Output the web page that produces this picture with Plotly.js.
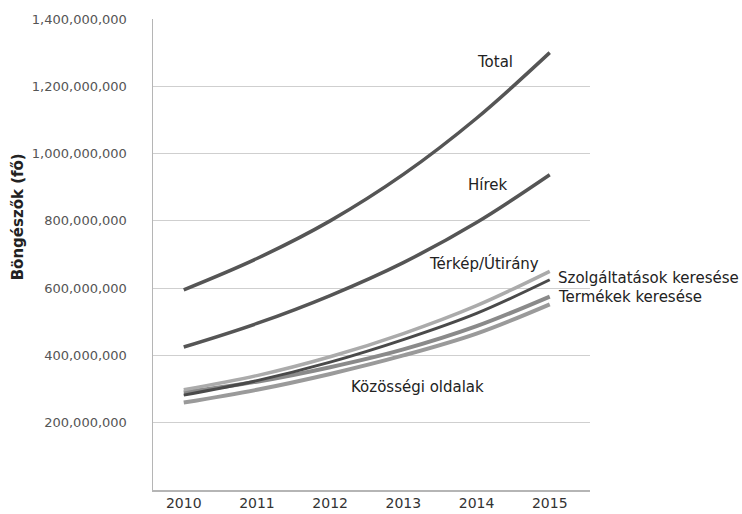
<!DOCTYPE html>
<html>
<head>
<meta charset="utf-8">
<script src="https://cdn.plot.ly/plotly-3.0.1.min.js"></script>
<style>html,body{margin:0;padding:0;background:#fff;}#chart{width:742px;height:514px;}</style>
</head>
<body>
<div id="chart"></div>
<script>
const years = [2010, 2011, 2012, 2013, 2014, 2015];
const total = [595e6, 688e6, 800e6, 938e6, 1105e6, 1300e6];
const hirek = [425e6, 495e6, 578e6, 676e6, 795e6, 937e6];
const terkep = [298e6, 340e6, 396e6, 465e6, 548e6, 650e6];
const szolgaltatasok = [282e6, 325e6, 380e6, 447e6, 525e6, 625e6];
const termekek = [290e6, 322e6, 365e6, 418e6, 487e6, 575e6];
const kozossegi = [260e6, 298e6, 345e6, 400e6, 465e6, 552e6];
const yTicks = [200e6, 400e6, 600e6, 800e6, 1000e6, 1200e6, 1400e6];
const yTitle = 'Böngészők (fő)';

function tr(y, color, width, name) {
  return {x: years, y: y, type: 'scatter', mode: 'lines', name: name,
    line: {color: color, width: width, shape: 'spline', smoothing: 1}, hoverinfo: 'skip'};
}
const data = [
  tr(kozossegi, '#9a9a9a', 4, 'Közösségi oldalak'),
  tr(termekek, '#8a8a8a', 4, 'Termékek keresése'),
  tr(terkep, '#ababab', 3.5, 'Térkép/Útirány'),
  tr(szolgaltatasok, '#4a4a4a', 3, 'Szolgáltatások keresése'),
  tr(hirek, '#555555', 3.5, 'Hírek'),
  tr(total, '#555555', 3.5, 'Total')
];
const lf = {family: 'DejaVu Sans, sans-serif', size: 15, color: '#222'};
function ann(text, x, y, xanchor) {
  return {text: text, x: x, y: y, xref: 'x', yref: 'y', showarrow: false, xanchor: xanchor || 'center', yanchor: 'middle', font: lf};
}
const layout = {
  width: 742, height: 514,
  margin: {l: 153, r: 152, t: 19, b: 24},
  paper_bgcolor: '#fff', plot_bgcolor: '#fff',
  showlegend: false,
  font: {family: 'DejaVu Sans, sans-serif', size: 13, color: '#555'},
  xaxis: {range: [2009.58, 2015.55], tickvals: years, ticktext: years.map(String),
    showgrid: false, zeroline: false, showline: true, linecolor: '#b5b5b5', linewidth: 1.5,
    ticks: '', tickfont: {family: 'DejaVu Sans, sans-serif', size: 14, color: '#333'}},
  yaxis: {range: [0, 1400e6], tickvals: yTicks, tickformat: ',d',
    showgrid: true, gridcolor: '#cfcfcf', gridwidth: 1, zeroline: false,
    showline: true, linecolor: '#b5b5b5', linewidth: 1.5, ticks: '', ticklabelstandoff: 22,
    tickfont: {family: 'DejaVu Sans, sans-serif', size: 13, color: '#555'}},
  annotations: [
    ann('Total', 2014.25, 1271e6),
    ann('Hírek', 2014.15, 908e6),
    ann('Térkép/Útirány', 2014.1, 673e6),
    ann('Szolgáltatások keresése', 2015.08, 631e6, 'left'),
    ann('Termékek keresése', 2015.08, 574e6, 'left'),
    ann('Közösségi oldalak', 2013.2, 307e6),
    {text: '<b>' + yTitle + '</b>', xref: 'paper', yref: 'paper', x: -0.31, y: 0.58, showarrow: false, textangle: -90,
      xanchor: 'center', yanchor: 'middle', font: {family: 'DejaVu Sans, sans-serif', size: 15, color: '#222'}}
  ]
};
Plotly.newPlot('chart', data, layout, {staticPlot: true, displayModeBar: false});
</script>
</body>
</html>
